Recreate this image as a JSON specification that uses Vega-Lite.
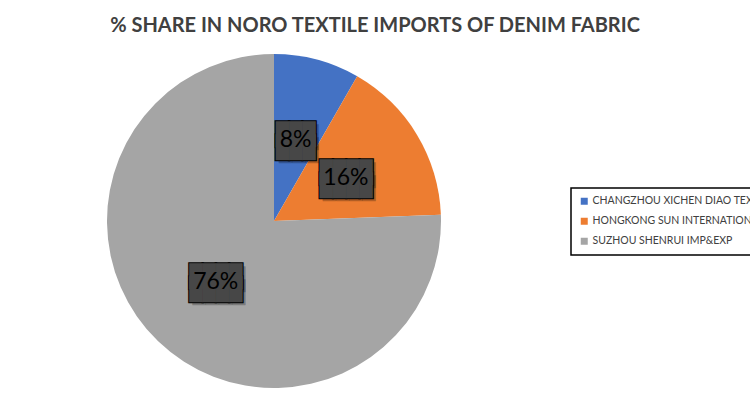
{
  "$schema": "https://vega.github.io/schema/vega-lite/v6.json",
  "width": 548,
  "height": 340,
  "autosize": {"type": "none"},
  "padding": {"top": 51, "left": 0, "right": 202, "bottom": 12},
  "background": "white",
  "title": {
    "text": "% SHARE IN NORO TEXTILE IMPORTS OF DENIM FABRIC",
    "font": "Lato",
    "fontSize": 20,
    "fontWeight": "bold",
    "color": "#404040",
    "anchor": "middle",
    "dx": 101,
    "offset": -1,
    "baseline": "alphabetic"
  },
  "data": {
    "values": [
      {"company": "CHANGZHOU XICHEN DIAO TEXTILE CO., LTD", "share": 0.083},
      {"company": "HONGKONG SUN INTERNATIONAL TRADING", "share": 0.161},
      {"company": "SUZHOU SHENRUI IMP&EXP", "share": 0.756}
    ]
  },
  "encoding": {
    "theta": {"field": "share", "type": "quantitative", "stack": true},
    "order": {"field": "company", "type": "nominal"}
  },
  "layer": [
    {
      "mark": {"type": "arc", "outerRadius": 167},
      "encoding": {
        "color": {
          "field": "company",
          "type": "nominal",
          "scale": {"range": ["#4472C4", "#ED7D31", "#A5A5A5"]},
          "legend": {
            "title": null,
            "orient": "none",
            "legendX": 571,
            "legendY": 137,
            "strokeColor": "#000000",
            "padding": 8,
            "symbolType": "square",
            "symbolSize": 49,
            "symbolStrokeWidth": 0,
            "labelFont": "Lato",
            "labelFontSize": 10.5,
            "labelColor": "#404040",
            "labelOffset": 3,
            "labelLimit": 400,
            "rowPadding": 9,
            "fillColor": "white",
            "encode": {"legend": {"update": {"strokeWidth": {"value": 1.5}}}}
          }
        }
      }
    },
    {
      "mark": {"type": "text", "radius": 84, "font": "DejaVu Sans Mono", "fontSize": 22, "lineHeight": 13, "dx": 3, "dy": -2, "align": "center", "baseline": "middle", "fill": "#000000", "fillOpacity": 0.25},
      "encoding": {
        "detail": {"field": "company"},
        "text": {"condition": {"test": "datum.share < 0.1", "value": ["███", "███"]}, "value": ["████", "████"]}
      }
    },
    {
      "mark": {"type": "text", "radius": 84, "font": "DejaVu Sans Mono", "fontSize": 22, "lineHeight": 13, "dy": -5, "align": "center", "baseline": "middle", "fill": "#000000", "stroke": "#000000", "strokeWidth": 2},
      "encoding": {
        "detail": {"field": "company"},
        "text": {"condition": {"test": "datum.share < 0.1", "value": ["███", "███"]}, "value": ["████", "████"]}
      }
    },
    {
      "mark": {"type": "text", "radius": 84, "font": "DejaVu Sans Mono", "fontSize": 22, "lineHeight": 13, "dy": -5, "align": "center", "baseline": "middle", "fill": "#474747"},
      "encoding": {
        "detail": {"field": "company"},
        "text": {"condition": {"test": "datum.share < 0.1", "value": ["███", "███"]}, "value": ["████", "████"]}
      }
    },
    {
      "mark": {"type": "text", "radius": 84, "font": "Lato", "fontSize": 23, "align": "center", "baseline": "middle", "fill": "#000000"},
      "encoding": {
        "detail": {"field": "company"},
        "text": {"field": "share", "type": "quantitative", "format": ".0%"}
      }
    }
  ]
}
